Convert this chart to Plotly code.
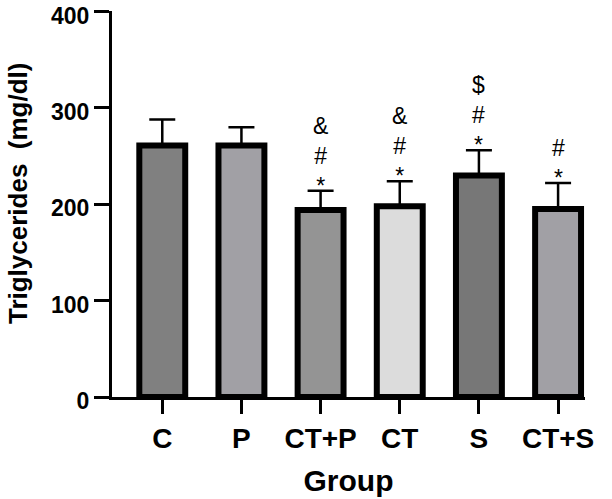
import plotly.graph_objects as go

groups = ["C", "P", "CT+P", "CT", "S", "CT+S"]
means = [261, 261, 194, 198, 230, 195]
sem = [27, 19, 20, 26, 26, 27]
colors = ["#808080", "#a1a0a5", "#949494", "#dcdcdc", "#777777", "#a1a0a5"]
marks = ["", "", "&<br>#<br>*", "&<br>#<br>*", "$<br>#<br>*", "#<br>*"]

fig = go.Figure()
fig.add_trace(go.Bar(
    x=groups, y=means,
    marker=dict(color=colors, line=dict(color="black", width=6)),
    width=0.58,
    error_y=dict(type="data", array=sem, arrayminus=[0]*len(sem), symmetric=False,
                 color="black", thickness=2.5, width=13),
))

for g, m, s, t in zip(groups, means, sem, marks):
    if t:
        fig.add_annotation(x=g, y=m + s, text=t, showarrow=False, yanchor="bottom",
                           yshift=-10, font=dict(family="Liberation Sans", size=23, color="black"))

fig.add_annotation(xref="paper", yref="paper", x=-0.199, y=0.528, text="Triglycerides  (mg/dl)",
                   textangle=-90, showarrow=False, xanchor="center", yanchor="middle",
                   font=dict(family="Liberation Sans", size=26, weight="bold", color="black"))

fig.update_layout(
    width=612, height=499,
    margin=dict(l=112, r=27, t=11, b=102),
    plot_bgcolor="white", paper_bgcolor="white",
    showlegend=False,
    font=dict(family="Liberation Sans", color="black"),
    xaxis=dict(
        range=[-0.635, 5.34], automargin=False,
        showline=True, linecolor="black", linewidth=3,
        ticks="outside", ticklen=14, tickwidth=3, tickcolor="black",
        tickfont=dict(size=28, weight="bold"),
        title=dict(text="Group", font=dict(size=30, weight="bold"), standoff=18),
        showgrid=False, zeroline=False,
    ),
    yaxis=dict(
        range=[0, 400.6], tickvals=[0, 100, 200, 300, 400], automargin=False,
        showline=True, linecolor="black", linewidth=3,
        ticks="outside", ticklen=15, tickwidth=3, tickcolor="black",
        tickfont=dict(size=23, weight="bold"),
        ticklabelshift=4,
        ticklabeloverflow="allow",
        showgrid=False, zeroline=False,
    ),
)

fig.write_html("out.html")
